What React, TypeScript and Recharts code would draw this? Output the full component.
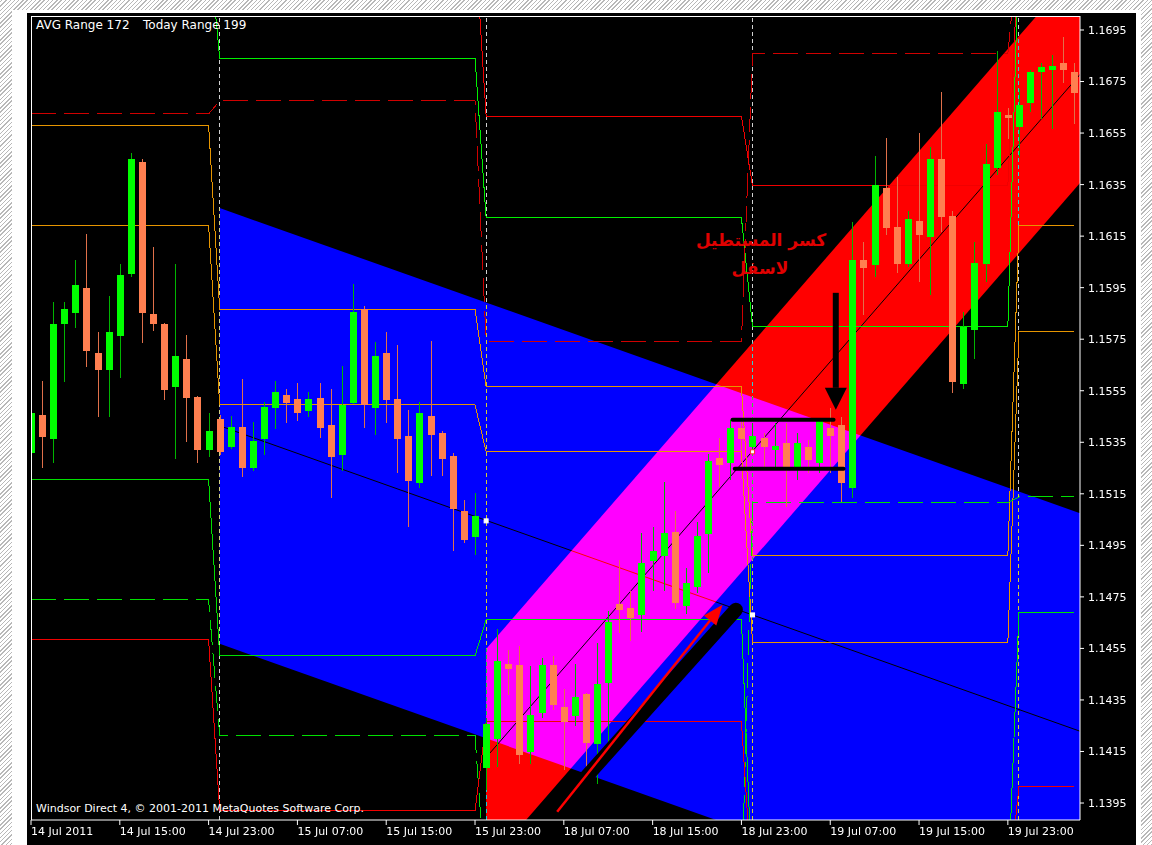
import {
  ComposedChart,
  XAxis,
  YAxis,
  Bar,
  Line,
  Area,
  ReferenceLine,
  ReferenceDot,
  CartesianGrid,
} from 'recharts'

// hourly candles, bar 0 = 14 Jul 07:00
const opens = [
  1.15309, 1.15456, 1.15363, 1.15809, 1.15852, 1.15949, 1.15697, 1.15631, 1.15763, 1.16003,
  1.16438, 1.15848, 1.15809, 1.15565, 1.15673, 1.15526, 1.1532, 1.15441, 1.15332, 1.1541,
  1.15251, 1.15363, 1.15483, 1.15534, 1.15518, 1.15472, 1.15522, 1.15417, 1.15301, 1.15503,
  1.15867, 1.15483, 1.15697, 1.15518, 1.15375, 1.15192, 1.15452, 1.15386, 1.15297, 1.15084,
  1.14983, 1.14087, 1.14199, 1.1449, 1.14486, 1.14149, 1.143, 1.14486, 1.14323, 1.14288,
  1.14374, 1.1418, 1.14416, 1.14723, 1.14707, 1.1468, 1.1489, 1.14909, 1.15002, 1.14715,
  1.14789, 1.14994, 1.15289, 1.1527, 1.15406, 1.15332, 1.15367, 1.1532, 1.15348, 1.15254,
  1.15332, 1.1527, 1.15406, 1.15417, 1.15173, 1.16058, 1.16038, 1.16337, 1.16186, 1.16042,
  1.16209, 1.16147, 1.16449, 1.16228, 1.15576, 1.15786, 1.16042, 1.16415, 1.1662, 1.16574,
  1.16667, 1.16787, 1.16795, 1.16822, 1.16787,
]
const highs = [
  1.15495, 1.15588, 1.15895, 1.15895, 1.16058, 1.16158, 1.15778, 1.15918, 1.16042, 1.16473,
  1.16449, 1.16108, 1.15813, 1.16042, 1.15767, 1.1553, 1.15464, 1.15456, 1.15452, 1.15596,
  1.15429, 1.15507, 1.15588, 1.15557, 1.1558, 1.15545, 1.1558, 1.15557, 1.15646, 1.15964,
  1.15879, 1.15739, 1.15778, 1.15728, 1.15476, 1.15507, 1.15743, 1.15394, 1.15309, 1.15126,
  1.15154, 1.14281, 1.14626, 1.14544, 1.1456, 1.14482, 1.14513, 1.14521, 1.14393, 1.1449,
  1.14378, 1.14572, 1.14696, 1.14894, 1.14773, 1.14998, 1.15022, 1.15196, 1.15084, 1.14863,
  1.15041, 1.15305, 1.15367, 1.15437, 1.15445, 1.15425, 1.15386, 1.15425, 1.15425, 1.15386,
  1.15359, 1.15445, 1.15483, 1.15448, 1.16205, 1.16127, 1.16461, 1.16531, 1.1638, 1.16248,
  1.1655, 1.16496, 1.16709, 1.16248, 1.15856, 1.16127, 1.16508, 1.16869, 1.16647, 1.16721,
  1.16795, 1.16822, 1.16853, 1.16923, 1.16822,
]
const lows = [
  1.15285, 1.15251, 1.1527, 1.15584, 1.15794, 1.15642, 1.15448, 1.15448, 1.156, 1.15992,
  1.15736, 1.15782, 1.15514, 1.15285, 1.15351, 1.1527, 1.15293, 1.15301, 1.15324, 1.15216,
  1.15239, 1.15301, 1.15402, 1.15425, 1.15433, 1.15448, 1.15367, 1.15134, 1.15239, 1.15499,
  1.15406, 1.15379, 1.15425, 1.15231, 1.15022, 1.15173, 1.1522, 1.1522, 1.14929, 1.1496,
  1.14913, 1.14001, 1.1409, 1.1437, 1.14102, 1.14102, 1.14281, 1.14312, 1.14079, 1.1425,
  1.14021, 1.14024, 1.14184, 1.1461, 1.14579, 1.14614, 1.14773, 1.14773, 1.14703, 1.14684,
  1.14766, 1.14843, 1.15177, 1.15204, 1.15313, 1.15313, 1.15254, 1.15254, 1.15099, 1.15204,
  1.15231, 1.15231, 1.15231, 1.15119, 1.15134, 1.15844, 1.15992, 1.16155, 1.16007, 1.1603,
  1.15972, 1.15922, 1.16166, 1.15542, 1.15557, 1.15673, 1.15972, 1.16387, 1.16527, 1.16457,
  1.16632, 1.16605, 1.16566, 1.16744, 1.16585,
]
const closes = [
  1.15464, 1.15371, 1.15809, 1.15867, 1.15961, 1.15705, 1.15631, 1.15778, 1.15999, 1.16449,
  1.15852, 1.15809, 1.15553, 1.15685, 1.15522, 1.1532, 1.15394, 1.15313, 1.1541, 1.15251,
  1.15355, 1.15487, 1.15545, 1.15503, 1.15464, 1.15518, 1.15406, 1.15293, 1.15495, 1.15856,
  1.15495, 1.15685, 1.15514, 1.15363, 1.152, 1.15464, 1.15379, 1.15285, 1.15091, 1.14971,
  1.15064, 1.14257, 1.14502, 1.14471, 1.14137, 1.14292, 1.14486, 1.14331, 1.14265, 1.14362,
  1.14184, 1.14412, 1.14653, 1.147, 1.14669, 1.14882, 1.14929, 1.14998, 1.14727, 1.14804,
  1.14987, 1.15278, 1.15262, 1.15406, 1.15363, 1.15375, 1.15332, 1.15336, 1.15254, 1.15348,
  1.15282, 1.15437, 1.15375, 1.15192, 1.16058, 1.16027, 1.16349, 1.16182, 1.16042, 1.16217,
  1.16155, 1.16449, 1.16224, 1.15584, 1.15798, 1.16046, 1.1643, 1.16632, 1.16609, 1.16659,
  1.16787, 1.16806, 1.1681, 1.16795, 1.16706,
]

const xTicks = [0, 8, 16, 24, 32, 40, 48, 56, 64, 72, 80, 88]
const xLabels = [
  '14 Jul 2011', '14 Jul 15:00', '14 Jul 23:00', '15 Jul 07:00', '15 Jul 15:00', '15 Jul 23:00',
  '18 Jul 07:00', '18 Jul 15:00', '18 Jul 23:00', '19 Jul 07:00', '19 Jul 15:00', '19 Jul 23:00',
]
const yTicks = [
  1.1395, 1.1415, 1.1435, 1.1455, 1.1475, 1.1495, 1.1515, 1.1535, 1.1555, 1.1575, 1.1595,
  1.1615, 1.1635, 1.1655, 1.1675, 1.1695,
]

// daily pivot style levels (one value per day), off-screen ones sit outside the axis
const OFF_TOP = 1.173
const OFF_LOW = 1.136
const dayStart = [0, 17, 41, 65, 89]
const greenHigh = [OFF_TOP, 1.16841, 1.16221, 1.15798, OFF_TOP]
const redDash = [1.16624, 1.16675, 1.15743, 1.16857, OFF_TOP]
const redHigh = [OFF_TOP, OFF_TOP, 1.16616, 1.16345, OFF_TOP]
const orangeA = [1.16581, 1.15867, 1.15565, 1.14909, 1.16193]
const orangeB = [1.16193, 1.15495, 1.15313, 1.14572, 1.15778]
const greenLow = [1.15204, 1.14521, 1.14661, OFF_LOW, 1.14688]
const greenDash = [1.14738, 1.14211, OFF_LOW, 1.15115, 1.15138]
const redLow = [1.14583, 1.1392, 1.14265, OFF_LOW, 1.14013]

const levels = [
  { key: 'greenHigh', vals: greenHigh, color: '#00F000', dash: undefined },
  { key: 'redDash', vals: redDash, color: '#D00000', dash: '25 8' },
  { key: 'redHigh', vals: redHigh, color: '#F00000', dash: undefined },
  { key: 'orangeA', vals: orangeA, color: '#E69500', dash: undefined },
  { key: 'orangeB', vals: orangeB, color: '#E69500', dash: undefined },
  { key: 'greenLow', vals: greenLow, color: '#00E000', dash: undefined },
  { key: 'greenDash', vals: greenDash, color: '#00E000', dash: '25 8' },
  { key: 'redLow', vals: redLow, color: '#F00000', dash: undefined },
]

// regression channels: bar, [lower, upper], middle
const blueChannel = [
  { i: 17, rb: [1.14568, 1.16259], m: 1.15414 },
  { i: 95, rb: [1.13375, 1.15067], m: 1.14221 },
]
const redChannel = [
  { i: 41, rr: [1.13706, 1.14548], m: 1.14127 },
  { i: 95, rr: [1.16381, 1.17223], m: 1.16802 },
]

const daySeparators = [17, 41, 65, 89]
const boxLines = [
  [63.2, 72.3, 1.15437],
  [63.4, 73.2, 1.15247],
]
const downArrow = [[72.5, 1.1593], [72.5, 1.15476]]
const redArrow = [[47.4, 1.13916], [62.3, 1.14719]]
const arrowShadow = [[46.3, 1.13873], [63.5, 1.147]]
const markers = [
  [41, 1.15045, '#FFFFFF'],
  [65, 1.1468, '#FFFFFF'],
  [65, 1.15313, '#FF3030'],
]

const dayIdx = (i: number) => dayStart.filter((s) => s <= i).length - 1

const rows = opens.map((o, i) => {
  const r: Record<string, any> = { i, o, h: highs[i], l: lows[i], c: closes[i], hl: [lows[i], highs[i]] }
  levels.forEach((lv) => {
    r[lv.key] = lv.vals[dayIdx(i)]
  })
  return r
})

const FONT = 'DejaVu Sans'
const X_DOMAIN = [0, 94.5]
const Y_DOMAIN = [1.138841, 1.170043]

const Candle = (props: any) => {
  const { x, y, width, height, payload } = props
  if (!payload || !height) return <g />
  const { o, h, l, c } = payload
  const top = Math.min(y, y + height)
  const span = Math.abs(height)
  const k = span / (h - l)
  const cx = Math.round(x + width / 2) + 0.5
  const py = (v: number) => top + (h - v) * k
  const up = c >= o
  const bTop = py(Math.max(o, c))
  const bH = Math.max(1, py(Math.min(o, c)) - bTop)
  return (
    <g shapeRendering="crispEdges">
      <line x1={cx} x2={cx} y1={top} y2={top + span} stroke={up ? '#00B400' : '#E0704A'} />
      <rect x={cx - 3.5} y={bTop} width={7} height={bH} fill={up ? '#00FF00' : '#FF7F50'} />
    </g>
  )
}

const XTick = (props: any) => {
  const { x, y, payload } = props
  const idx = xTicks.indexOf(payload.value)
  return (
    <text x={x} y={y} dy="0.71em" fill="#fff" fontSize={11} fontFamily={FONT}>
      {xLabels[idx]}
    </text>
  )
}

const arrow = (color: string, w: number, head: number, half: number) => (p: any) => {
  const { x1, y1, x2, y2 } = p
  const dx = x2 - x1
  const dy = y2 - y1
  const len = Math.hypot(dx, dy) || 1
  const ux = dx / len
  const uy = dy / len
  const bx = x2 - ux * head
  const by = y2 - uy * head
  const nx = -uy
  const ny = ux
  return (
    <g>
      <line x1={x1} y1={y1} x2={bx} y2={by} stroke={color} strokeWidth={w} />
      <polygon
        points={`${x2},${y2} ${bx + nx * half},${by + ny * half} ${bx - nx * half},${by - ny * half}`}
        fill={color}
      />
    </g>
  )
}

const thick = (color: string, w: number) => (p: any) => (
  <line x1={p.x1} y1={p.y1} x2={p.x2} y2={p.y2} stroke={color} strokeWidth={w} strokeLinecap="round" />
)

const css = `.crisp path, .crisp line { shape-rendering: crispEdges; }`

const hatch = 'repeating-linear-gradient(-45deg, #b8b8b8 0px, #b8b8b8 1px, #ffffff 1px, #ffffff 3px)'

// one chart layer; all layers share the same plot geometry
function Layer({ blend, axes, children }: { blend?: string; axes?: boolean; children: any }) {
  return (
    <div style={{ position: 'absolute', left: 0, top: 0, mixBlendMode: (blend || 'normal') as any }}>
      <ComposedChart width={1109} height={832} data={rows} margin={{ top: 3, right: 0, left: 4, bottom: 0 }}>
        <XAxis
          dataKey="i"
          type="number"
          domain={X_DOMAIN}
          allowDataOverflow
          ticks={xTicks}
          interval={0}
          tick={axes ? <XTick /> : false}
          tickSize={5}
          tickMargin={2}
          height={25}
          axisLine={axes ? { stroke: '#fff' } : false}
          tickLine={axes ? { stroke: '#fff' } : false}
        />
        <YAxis
          orientation="right"
          type="number"
          domain={Y_DOMAIN}
          allowDataOverflow
          ticks={yTicks}
          tickFormatter={(v: number) => v.toFixed(4)}
          width={56}
          tickSize={4}
          tickMargin={4}
          tick={axes ? { fill: '#fff', fontSize: 11, fontFamily: FONT } : false}
          axisLine={axes ? { stroke: '#fff' } : false}
          tickLine={axes ? { stroke: '#fff' } : false}
        />
        {children}
      </ComposedChart>
    </div>
  )
}

export default function App() {
  return (
    <div style={{ position: 'absolute', left: 0, top: 0, width: 1152, height: 845, overflow: 'hidden', background: hatch }}>
      <style>{css}</style>
      <div style={{ position: 'absolute', left: 12, top: 10, width: 1129, height: 835, background: '#fff' }} />
      <div style={{ position: 'absolute', left: 27, top: 13, width: 1109, height: 832, background: '#000', isolation: 'isolate' }}>
        {/* blue channel with its middle line */}
        <Layer>
          <CartesianGrid fill="#000" horizontal={false} vertical={false} />
          <Area data={blueChannel} dataKey="rb" type="linear" stroke="none" fill="#0000FF" fillOpacity={1} isAnimationActive={false} />
          <Line data={blueChannel} dataKey="m" type="linear" stroke="#000" strokeWidth={1} dot={false} activeDot={false} isAnimationActive={false} />
        </Layer>

        {/* red channel, lightened over the blue one gives magenta */}
        <Layer blend="lighten">
          <Area data={redChannel} dataKey="rr" type="linear" stroke="none" fill="#FF0000" fillOpacity={1} isAnimationActive={false} />
        </Layer>

        {/* day separators */}
        <Layer blend="difference">
          {daySeparators.map((d) => (
            <ReferenceLine key={d} x={d} stroke="#D0D0D0" strokeDasharray="4 3" className="crisp" />
          ))}
        </Layer>

        <Layer axes>
          <Line data={redChannel} dataKey="m" type="linear" stroke="#000" strokeWidth={1} dot={false} activeDot={false} isAnimationActive={false} zIndex={104} />

          {levels.map((lv) => (
            <Line
              key={lv.key}
              dataKey={lv.key}
              type="linear"
              stroke={lv.color}
              strokeWidth={1}
              strokeDasharray={lv.dash}
              dot={false}
              activeDot={false}
              className="crisp"
              isAnimationActive={false}
              zIndex={105}
            />
          ))}

          <Bar dataKey="hl" barSize={7} shape={<Candle />} isAnimationActive={false} zIndex={107} />

          <ReferenceLine
            segment={[{ x: arrowShadow[0][0], y: arrowShadow[0][1] }, { x: arrowShadow[1][0], y: arrowShadow[1][1] }]}
            ifOverflow="visible"
            shape={thick('#000', 14)}
            zIndex={108}
          />
          <ReferenceLine
            segment={[{ x: redArrow[0][0], y: redArrow[0][1] }, { x: redArrow[1][0], y: redArrow[1][1] }]}
            ifOverflow="visible"
            shape={arrow('#FF0000', 2.5, 20, 8)}
            zIndex={109}
          />
          {boxLines.map((b, k) => (
            <ReferenceLine
              key={k}
              segment={[{ x: b[0], y: b[2] }, { x: b[1], y: b[2] }]}
              ifOverflow="visible"
              shape={thick('#000', 4)}
              zIndex={109}
            />
          ))}
          <ReferenceLine
            segment={[{ x: downArrow[0][0], y: downArrow[0][1] }, { x: downArrow[1][0], y: downArrow[1][1] }]}
            ifOverflow="visible"
            shape={arrow('#000', 6, 22, 11)}
            zIndex={109}
          />
          {markers.map((m, k) => (
            <ReferenceDot
              key={k}
              x={m[0] as number}
              y={m[1] as number}
              zIndex={110}
              shape={(p: any) => (
                <rect x={p.cx - 2} y={p.cy - 2} width={4} height={4} fill="#fff" stroke={m[2] as string} strokeWidth={1} />
              )}
            />
          ))}
        </Layer>
      </div>
      <svg width={1152} height={845} style={{ position: 'absolute', left: 0, top: 0, pointerEvents: 'none' }}>
        <line x1={31.5} y1={16} x2={31.5} y2={820} stroke="#fff" />
        <line x1={31} y1={16.5} x2={1080} y2={16.5} stroke="#fff" />
        <text x={36} y={29} fill="#fff" fontSize={12} fontFamily={FONT}>AVG Range 172</text>
        <text x={143} y={29} fill="#fff" fontSize={12} fontFamily={FONT}>Today Range 199</text>
        <text x={36} y={812} fill="#fff" fontSize={11} fontFamily={FONT}>
          Windsor Direct 4, © 2001-2011 MetaQuotes Software Corp.
        </text>
        <text x={761} y={246} fill="#E00000" fontSize={17} fontWeight="bold" fontFamily={FONT} textAnchor="middle" direction="rtl">
          كسر المستطيل
        </text>
        <text x={760} y={274} fill="#E00000" fontSize={17} fontWeight="bold" fontFamily={FONT} textAnchor="middle" direction="rtl">
          لاسفل
        </text>
      </svg>
    </div>
  )
}
